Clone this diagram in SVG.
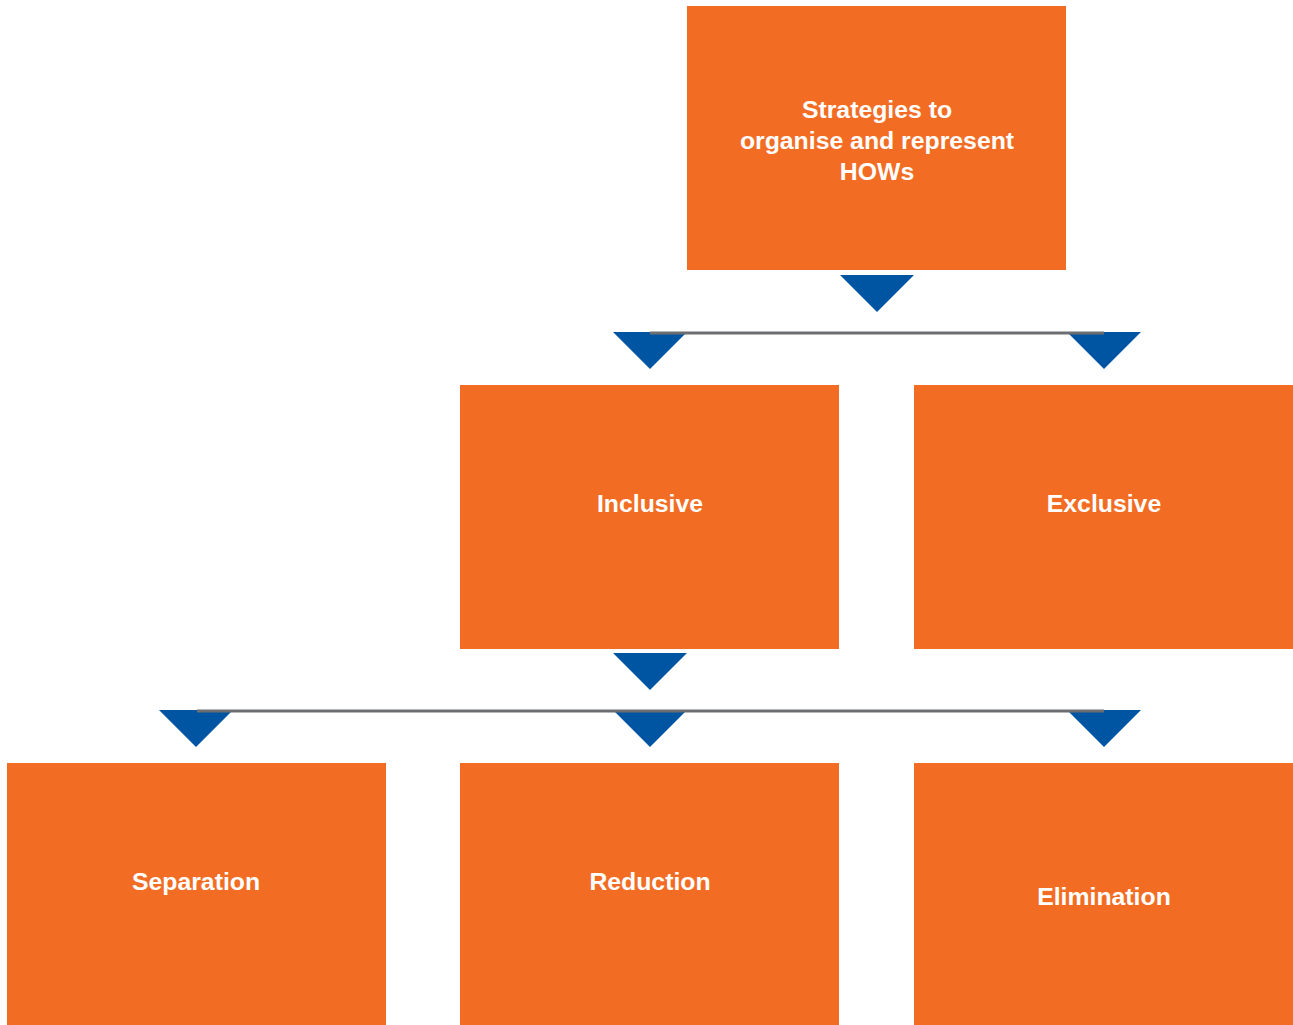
<svg xmlns="http://www.w3.org/2000/svg" width="1293" height="1025" viewBox="0 0 1293 1025">
<style>
.box{fill:#F36C23}
.lbl{fill:#fff;font-family:"Liberation Sans",Arial,sans-serif;font-weight:bold;font-size:24.8px;text-anchor:middle}
.tri{fill:#0055A2}
.bar{stroke:#6D6E71;stroke-width:3;fill:none}
</style>
<defs>
<polygon id="arrow" class="tri" points="-37,0 37,0 0,37"/>
</defs>
<rect width="1293" height="1025" fill="#fff"/>
<g id="connectors">
<use href="#arrow" x="877" y="275"/>
<use href="#arrow" x="650" y="332"/>
<use href="#arrow" x="1104" y="332"/>
<line class="bar" x1="650" y1="333" x2="1104" y2="333"/>
<use href="#arrow" x="650" y="653"/>
<use href="#arrow" x="196" y="710"/>
<use href="#arrow" x="650" y="710"/>
<use href="#arrow" x="1104" y="710"/>
<line class="bar" x1="197" y1="711" x2="1104" y2="711"/>
</g>
<g id="root">
<rect class="box" x="687" y="6" width="379" height="264"/>
<text class="lbl" x="877" y="118">Strategies to</text>
<text class="lbl" x="877" y="149">organise and represent</text>
<text class="lbl" x="877" y="180">HOWs</text>
</g>
<g id="inclusive">
<rect class="box" x="460" y="385" width="379" height="264"/>
<text class="lbl" x="650" y="512">Inclusive</text>
</g>
<g id="exclusive">
<rect class="box" x="914" y="385" width="379" height="264"/>
<text class="lbl" x="1104" y="512">Exclusive</text>
</g>
<g id="separation">
<rect class="box" x="7" y="763" width="379" height="262"/>
<text class="lbl" x="196" y="890">Separation</text>
</g>
<g id="reduction">
<rect class="box" x="460" y="763" width="379" height="262"/>
<text class="lbl" x="650" y="890">Reduction</text>
</g>
<g id="elimination">
<rect class="box" x="914" y="763" width="379" height="262"/>
<text class="lbl" x="1104" y="905">Elimination</text>
</g>
</svg>
